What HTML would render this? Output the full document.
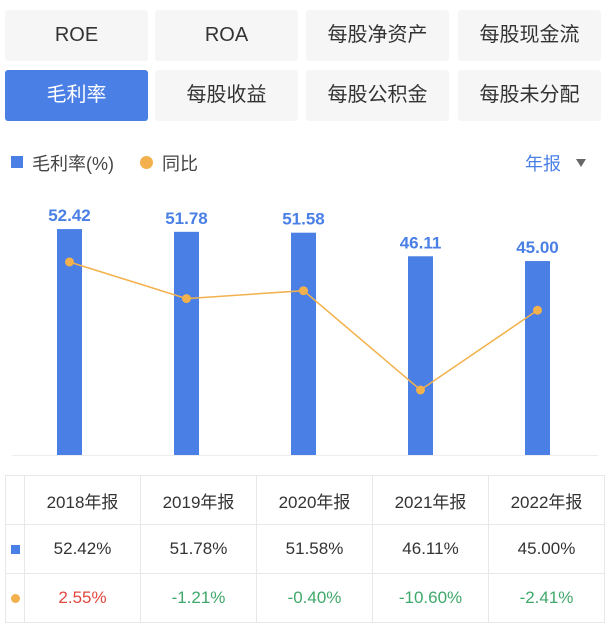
<!DOCTYPE html>
<html><head><meta charset="utf-8"><style>
body{margin:0;width:611px;height:634px;background:#fff;font-family:"Liberation Sans","Noto Sans CJK SC",sans-serif;position:relative;overflow:hidden}
.btn{position:absolute;width:143px;height:51px;background:#f6f6f6;border-radius:3px;color:#333;font-size:20px;line-height:51px;text-align:center}
.btn.on{background:#4a7fe6;color:#fff}
.tbl{position:absolute;left:5px;top:475px;border-collapse:collapse;table-layout:fixed;width:599px}
.tbl td{border:1px solid #e8e8e8;height:49px;text-align:center;font-size:17px;color:#333;padding:0;box-sizing:border-box}
</style></head><body>
<div class="btn" style="left:5px;top:10px">ROE</div>
<div class="btn" style="left:155px;top:10px">ROA</div>
<div class="btn" style="left:306px;top:10px">每股净资产</div>
<div class="btn" style="left:458px;top:10px">每股现金流</div>
<div class="btn on" style="left:5px;top:70px">毛利率</div>
<div class="btn" style="left:155px;top:70px">每股收益</div>
<div class="btn" style="left:306px;top:70px">每股公积金</div>
<div class="btn" style="left:458px;top:70px">每股未分配</div>
<div style="position:absolute;left:11px;top:156px;width:12px;height:12px;background:#4a7fe6"></div>
<div style="position:absolute;left:32px;top:150px;font-size:18px;color:#444">毛利率(%)</div>
<div style="position:absolute;left:140px;top:156px;width:13px;height:13px;border-radius:50%;background:#f2b14c"></div>
<div style="position:absolute;left:162px;top:150px;font-size:18px;color:#444">同比</div>
<div style="position:absolute;left:525px;top:150px;font-size:18px;color:#4a7fe6">年报</div>
<div style="position:absolute;left:576px;top:159px;width:0;height:0;border-left:5px solid transparent;border-right:5px solid transparent;border-top:8px solid #666"></div>
<svg id="chart" style="position:absolute;left:0;top:0" width="611" height="470"></svg>
<table class="tbl">
<colgroup><col style="width:19px"><col style="width:116px"><col style="width:116px"><col style="width:116px"><col style="width:116px"><col style="width:116px"></colgroup>
<tr><td></td><td>2018年报</td><td>2019年报</td><td>2020年报</td><td>2021年报</td><td>2022年报</td></tr>
<tr><td><div style="width:9px;height:9px;background:#4a7fe6;margin:auto"></div></td><td>52.42%</td><td>51.78%</td><td>51.58%</td><td>46.11%</td><td>45.00%</td></tr>
<tr><td><div style="width:9px;height:9px;border-radius:50%;background:#f2b14c;margin:auto"></div></td><td style="color:#e0483f">2.55%</td><td style="color:#3fa86a">-1.21%</td><td style="color:#3fa86a">-0.40%</td><td style="color:#3fa86a">-10.60%</td><td style="color:#3fa86a">-2.41%</td></tr>
</table>
<script>
const categories=["2018","2019","2020","2021","2022"];
const margins=[52.42,51.78,51.58,46.11,45.00];
const yoy=[2.55,-1.21,-0.40,-10.60,-2.41];
const svg=document.getElementById('chart');
const NS='http://www.w3.org/2000/svg';
const xPos=i=>69.5+i*117;
const yBar=v=>455-v*4.31;
const yLine=v=>286.8-v*9.73;
function mk(t,a){const e=document.createElementNS(NS,t);for(const k in a)e.setAttribute(k,a[k]);svg.appendChild(e);return e;}
const base=mk('line',{x1:12,x2:598,y1:455.5,y2:455.5,stroke:'#eee','stroke-width':1});


margins.forEach((v,i)=>{
  const r=mk('rect',{x:xPos(i)-12.5,y:yBar(v),width:25,height:455-yBar(v),fill:'#4a7fe6'});
  
  
  const t=mk('text',{x:xPos(i),y:yBar(v)-8,'text-anchor':'middle','font-size':17,'font-weight':'bold',fill:'#4a7fe6','font-family':'Liberation Sans, sans-serif'});
  t.textContent=v.toFixed(2);
  
  
});
const pl=mk('polyline',{points:yoy.map((v,i)=>xPos(i)+','+yLine(v)).join(' '),fill:'none',stroke:'#f2b14c','stroke-width':1.5});


yoy.forEach((v,i)=>{
  const c=mk('circle',{cx:xPos(i),cy:yLine(v),r:4.5,fill:'#f2b14c'});
  
  
});
</script>
</body></html>
